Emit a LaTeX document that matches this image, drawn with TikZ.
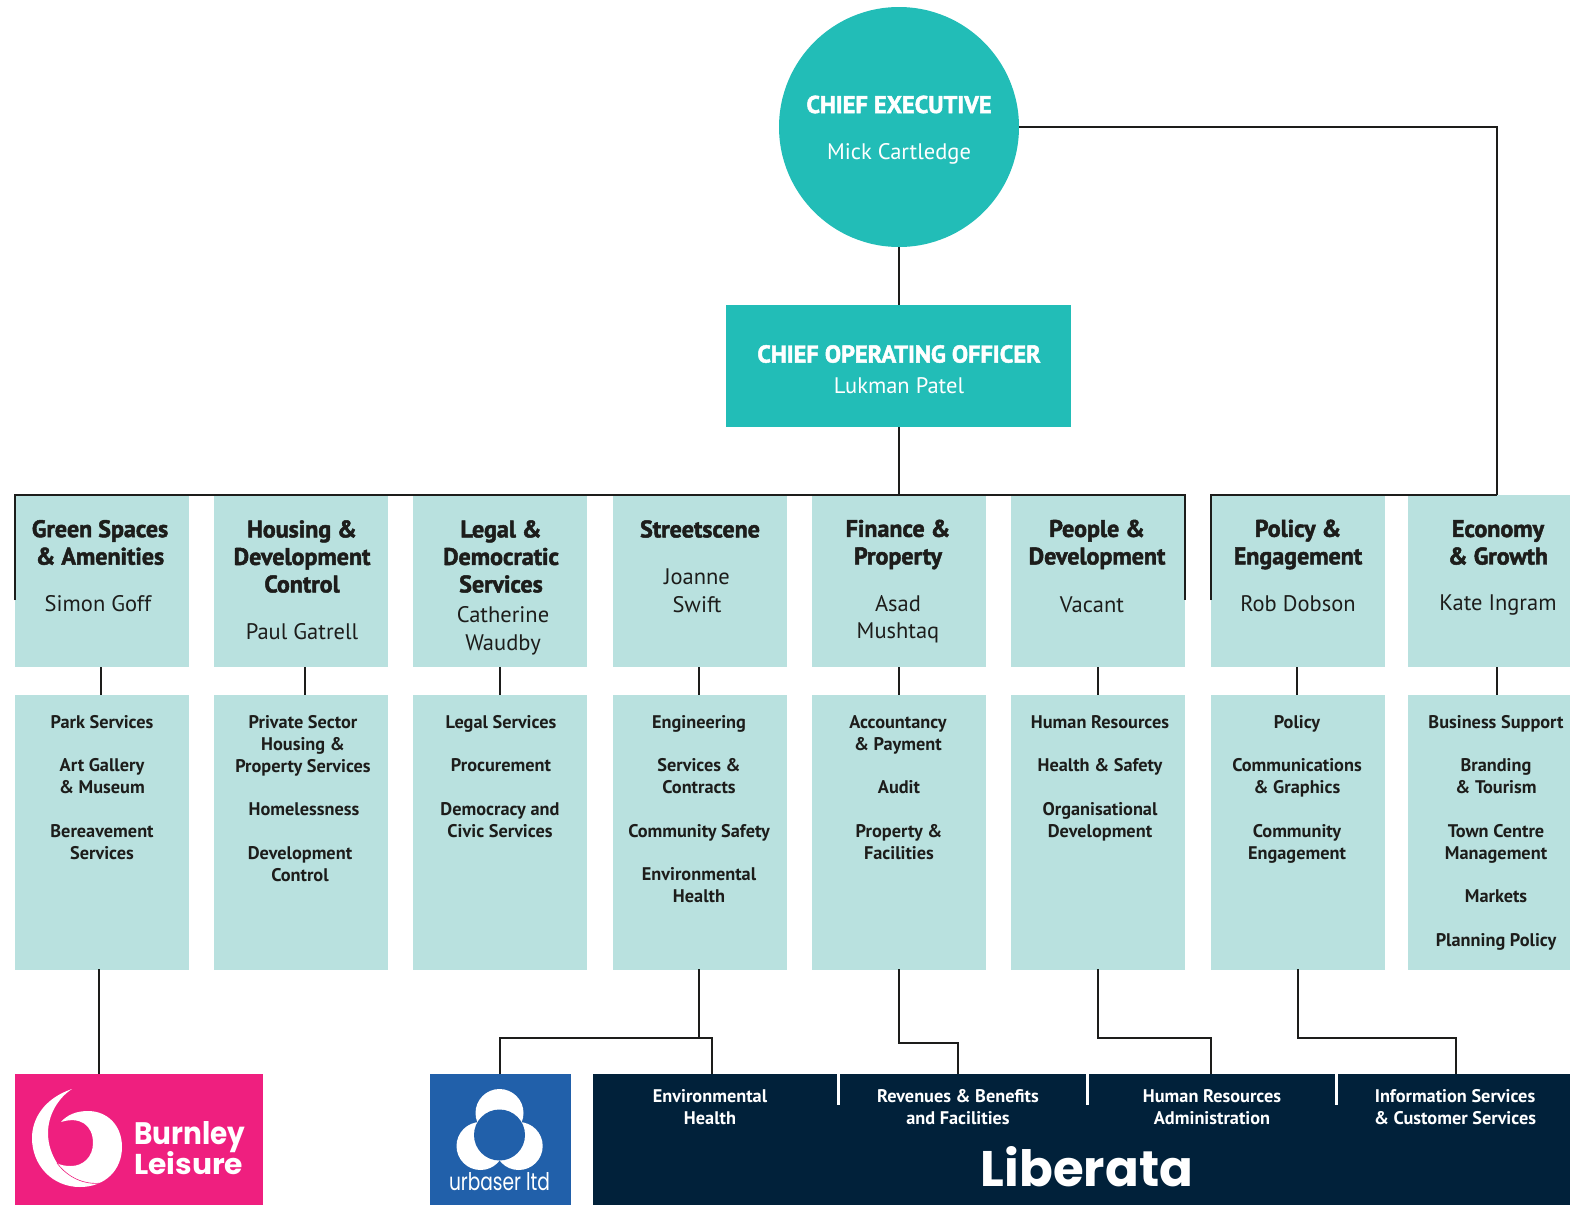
\documentclass[tikz,border=0pt]{standalone}
\usepackage{graphicx}
\usepackage{fontspec}
\setmainfont{PT Sans}
\newfontfamily\heavy[FakeBold=2]{PT Sans Bold}
\newfontfamily\logofont{Poppins}
\tikzset{
 x=1pt,y=-1pt,
 line/.style={draw=lineblack,line width=2pt},
 headt/.style={text=white,font=\fontsize{24.3}{26}\heavy,align=center,inner sep=0},
 headn/.style={text=white,font=\fontsize{22.5}{26}\selectfont,align=center,inner sep=0},
 dept/.style={fill=paleb,minimum width=174pt,minimum height=172pt,anchor=north west,inner sep=0},
 serv/.style={fill=paleb,minimum width=174pt,minimum height=274.5pt,anchor=north west,inner sep=0},
 t/.style={font=\fontsize{18.3}{22}\selectfont\bfseries,align=center,text=lineblack,inner sep=0,anchor=north},
 ttl/.style={font=\fontsize{24}{27.5}\heavy,align=center,text=lineblack,inner sep=0},
 nm/.style={font=\fontsize{22.5}{27.5}\selectfont,align=center,text=lineblack,inner sep=0},
 nav/.style={fill=navyb,anchor=north west,inner sep=0},
 wt/.style={font=\fontsize{18.3}{22}\selectfont\bfseries,align=center,text=white,inner sep=0,anchor=north},
 sepline/.style={white,line width=3pt},
}
\definecolor{tealb}{HTML}{22BDB7}
\definecolor{paleb}{HTML}{B9E1DF}
\definecolor{lineblack}{HTML}{1D1D1B}
\definecolor{navyb}{HTML}{01213A}
\definecolor{pinkb}{HTML}{EF1F7F}
\definecolor{blueb}{HTML}{2160AA}
\begin{document}
\begin{tikzpicture}
\useasboundingbox (0,0) rectangle (1570,1205);
\node[circle,fill=tealb,minimum size=240pt,inner sep=0] (ceo) at (899,127) {};
\node[headt] (ceot) at (899,104.5) {CHIEF EXECUTIVE};
\node[headn] (ceon) at (899,154) {Mick Cartledge};
\node[fill=tealb,minimum width=345pt,minimum height=122pt,inner sep=0] (coo) at (898,366) {};
\node[headt] (coot) at (899,354) {CHIEF OPERATING OFFICER};
\node[headn] (coon) at (899,386) {Lukman Patel};
\foreach \n/\x in {a/15,b/214,c/413,d/613,e/812,f/1011,g/1211,h/1408}{
 \node[dept] (d\n) at (\x,495) {};
 \node[serv] (s\n) at (\x,695) {};
}
\coordinate (barL) at (15,494.5);
\coordinate (barR) at (1185,494.5);
\coordinate (barLd) at (15,600);
\coordinate (barRd) at (1185,600);
\coordinate (barM) at (899,494.5);
\coordinate (ecoT) at (1497,494.5);
\coordinate (ecoC) at (1497,127);
\coordinate (polL) at (1211,494.5);
\coordinate (polLd) at (1211,600);
\draw[line] (ceo.south) -- (ceo.south |- coo.north);
\draw[line] (barM |- coo.south) -- (barM);
\draw[line] (barLd) -- (barL) -- (barR) -- (barRd);
\draw[line] (ceo.east) -- (ecoC) -- (ecoT);
\draw[line] (polLd) -- (polL) -- (ecoT);
\foreach \x in {101,305,500,699,899,1098,1297,1497}{
 \draw[line] (\x,667) -- (\x,695);
}
\node[ttl] (t1) at (100,542.5) {Green Spaces\\\& Amenities};
\node[nm] (n1) at (98,604) {Simon Goff};
\node[ttl] (t2) at (302,556.5) {Housing \&\\Development\\Control};
\node[nm] (n2) at (302,632) {Paul Gatrell};
\node[ttl] (t3) at (501,556.5) {Legal \&\\Democratic\\Services};
\node[nm] (n3) at (503,631) {Catherine\\Waudby};
\node[ttl] (t4) at (700,529) {Streetscene};
\node[nm] (n4) at (697,590.5) {Joanne\\Swift};
\node[ttl] (t5) at (898,544.5) {Finance \&\\Property};
\node[nm] (n5) at (898,619) {Asad\\Mushtaq};
\node[ttl] (t6) at (1097,544.5) {People \&\\Development};
\node[nm] (n6) at (1092,605) {Vacant};
\node[ttl] (t7) at (1298,544.5) {Policy \&\\Engagement};
\node[nm] (n7) at (1298,604) {Rob Dobson};
\node[ttl] (t8) at (1498,542.5) {Economy\\\& Growth};
\node[nm] (n8) at (1498,605) {Kate Ingram};
\node[t] (s1) at (102,715) {Park Services};
\node[t] (s1b) at (102,758) {Art Gallery\\\& Museum};
\node[t] (s1c) at (102,824) {Bereavement\\Services};
\node[t] (s2) at (303,715) {Private Sector\\Housing \&\\Property Services};
\node[t] (s2b) at (304,802) {Homelessness};
\node[t] (s2c) at (300,846) {Development\\Control};
\node[t] (s3) at (501,715) {Legal Services};
\node[t] (s3b) at (501,758) {Procurement};
\node[t] (s3c) at (500,802) {Democracy and\\Civic Services};
\node[t] (s4) at (699,715) {Engineering};
\node[t] (s4b) at (699,758) {Services \&\\Contracts};
\node[t] (s4c) at (699,824) {Community Safety};
\node[t] (s4d) at (699,867) {Environmental\\Health};
\node[t] (s5) at (898,715) {Accountancy\\\& Payment};
\node[t] (s5b) at (899,780) {Audit};
\node[t] (s5c) at (899,824) {Property \&\\Facilities};
\node[t] (s6) at (1100,715) {Human Resources};
\node[t] (s6b) at (1100,758) {Health \& Safety};
\node[t] (s6c) at (1100,802) {Organisational\\Development};
\node[t] (s7) at (1297,715) {Policy};
\node[t] (s7b) at (1297,758) {Communications\\\& Graphics};
\node[t] (s7c) at (1297,824) {Community\\Engagement};
\node[t] (s8) at (1496,715) {Business Support};
\node[t] (s8b) at (1496,758) {Branding\\\& Tourism};
\node[t] (s8c) at (1496,824) {Town Centre\\Management};
\node[t] (s8d) at (1496,889) {Markets};
\node[t] (s8e) at (1496,933) {Planning Policy};
\node[fill=pinkb,anchor=north west,minimum width=248pt,minimum height=131pt,inner sep=0] (bl) at (15,1074) {};
\node[fill=blueb,anchor=north west,minimum width=141pt,minimum height=131pt,inner sep=0] (ub) at (430,1074) {};
\node[nav,minimum width=977pt,minimum height=131pt] (lib) at (593,1074) {};
\coordinate (c1) at (99,1074);
\draw[line] (99,969) -- (c1);
\draw[line] (699,969) -- (699,1038);
\draw[line] (500,1074) -- (500,1038) -- (712,1038) -- (712,1074);
\draw[line] (899,969) -- (899,1043) -- (958,1043) -- (958,1074);
\draw[line] (1098,969) -- (1098,1038) -- (1211,1038) -- (1211,1074);
\draw[line] (1298,969) -- (1298,1038) -- (1456,1038) -- (1456,1074);
\draw[sepline] (838.5,1074) -- (838.5,1105);
\draw[sepline] (1087,1074) -- (1087,1105);
\draw[sepline] (1336,1074) -- (1336,1105);
\node[wt] (l1) at (710,1089) {Environmental\\Health};
\node[wt] (l2) at (958,1089) {Revenues \& Benefits\\and Facilities};
\node[wt] (l3) at (1212,1089.4) {Human Resources\\Administration};
\node[wt] (l4) at (1455,1089) {Information Services\\\& Customer Services};
\node[text=white,inner sep=0] (lb) at (1087,1167) {\resizebox{212pt}{40pt}{\logofont\bfseries Liberata}};
\fill[white] (499.5,1113) circle (24);
\fill[white] (480.5,1146) circle (24);
\fill[white] (518.7,1146) circle (24);
\fill[blueb] (499.5,1135) circle (25.5);
\node[text=white,inner sep=0] (ubt) at (499.5,1182) {\resizebox{101pt}{18pt}{\logofont urbaser ltd}};
\fill[white] (72,1089) .. controls (45,1098) and (32,1118) .. (32,1138) .. controls (32,1165) and (52,1187) .. (80,1187) .. controls (105,1187) and (122,1170) .. (122,1147) .. controls (122,1125) and (107,1111) .. (88,1111) .. controls (76,1111) and (67,1115) .. (61,1122) .. controls (80,1116) and (93,1125) .. (93,1143) .. controls (93,1157) and (83,1166) .. (71,1166) .. controls (65,1166) and (60,1165) .. (57,1163) .. controls (52,1155) and (48,1145) .. (48,1133) .. controls (48,1115) and (58,1098) .. (72,1089) -- cycle;
\draw[pinkb,line width=0.6pt] (57,1163) .. controls (68,1178) and (85,1185) .. (101,1183);
\node[text=white,inner sep=0,anchor=north west] (blt) at (134,1121) {\resizebox{111pt}{23pt}{\logofont\bfseries Burnley}};
\node[text=white,inner sep=0,anchor=north west] (blt2) at (134,1151) {\resizebox{109pt}{23pt}{\logofont\bfseries Leisure}};
\end{tikzpicture}
\end{document}
